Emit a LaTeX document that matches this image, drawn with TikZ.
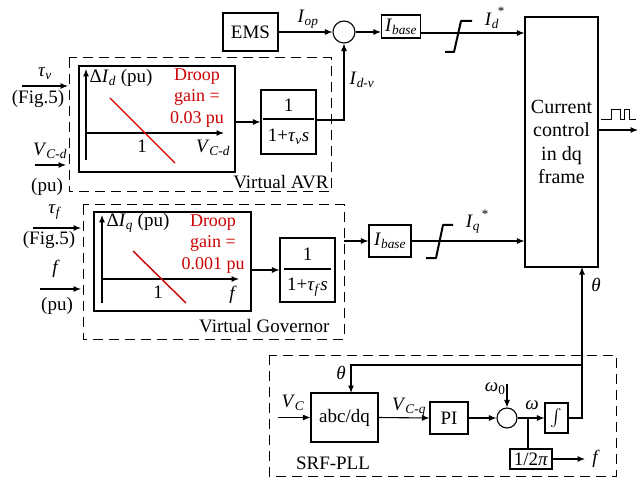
\documentclass[tikz,border=0pt]{standalone}
\usepackage{amsmath}
\usepackage{fontspec}
\setmainfont{Liberation Serif}
\usetikzlibrary{arrows.meta,calc}
\definecolor{droopred}{RGB}{204,0,0}
\newcommand\itsub[2]{\textit{#1}\textsubscript{\textit{#2}}}
\begin{document}
\begin{tikzpicture}[x=1pt,y=-1pt,
  font=\fontsize{19}{21}\selectfont,
  line width=1.1pt,
  >={Latex[length=7.5pt,width=6pt]},
  blk/.style={draw, inner sep=0pt},
  grp/.style={draw, line width=1pt, dash pattern=on 10pt off 6pt},
  lbl/.style={inner sep=0pt},
  starl/.style={inner sep=0pt, font=\fontsize{13}{14}\selectfont},
  redline/.style={draw=droopred, line width=1.4pt},
  droop/.style={text=droopred, align=center, inner sep=0pt, font=\fontsize{18}{21.5}\selectfont},
  sat/.style={line width=2pt, line join=round}]
\useasboundingbox (0,0) rectangle (639,478);

% ---------- top row ----------
\node[blk, minimum width=55pt, minimum height=38pt] (ems) at (250.5,32) {EMS};
\node[draw, circle, minimum size=22pt, inner sep=0pt] (sumd) at (344,32) {};
\node[blk, minimum width=39pt, minimum height=23pt] (ibd) at (401,26.5) {\itsub{I}{base}};
\node[blk, align=center, minimum width=73pt, minimum height=250pt,
      font=\fontsize{20}{23.5}\selectfont] (cc) at (561.5,142) {Current\\control\\in dq\\frame};

\draw[->] (ems.east) -- (sumd.west);
\node[lbl] (iop) at (308,19) {\itsub{I}{op}};
\draw[->] (sumd.east) -- (sumd.east -| ibd.west);
\coordinate (ibdo) at (420,33);
\draw[->] (ibdo) -- (ibdo -| cc.west);
\draw[sat] (445,52) -- (454,52) -- (461,21) -- (472,21);
\node[lbl] (idl) at (492,21) {\itsub{I}{d}};
\node[starl] (ids) at (501,11) {*};

% output of current control
\coordinate (cco) at (598,130);
\coordinate (ccend) at (638,130);
\draw[->] (cco) -- (ccend);
\draw[line width=0.9pt] (601,119) -- (611,119) -- (611,109) -- (620,109) -- (620,119) -- (624,119)
   -- (624,109) -- (629,109) -- (629,119) -- (636,119);

% ---------- Virtual AVR ----------
\draw[grp] (69,58) rectangle (331,192);
\node[lbl, anchor=base east] (avrl) at (329,189) {Virtual AVR};
\node[blk, minimum width=156pt, minimum height=106pt] (gd) at (157,119) {};
\coordinate (gdv0) at (86,160); \coordinate (gdv1) at (86,69);
\coordinate (gdh0) at (86,133); \coordinate (gdh1) at (224,133);
\draw[->] (gdv0) -- (gdv1);
\draw[->] (gdh0) -- (gdh1);
\draw[redline] (110,98) -- (175,163);
\node[lbl, anchor=west] (dild) at (89,78) {Δ\itsub{I}{d} (pu)};
\node[lbl] (oned) at (142,146) {1};
\node[lbl] (vcdax) at (213,148) {\itsub{V}{C-d}};
\node[droop] (droopd) at (197,98) {Droop\\gain =\\0.03 pu};

\node[blk, minimum width=55pt, minimum height=64pt] (tv) at (288.5,122) {};
\draw (263,119) -- (314,119);
\node[lbl] (tvn) at (288.5,105) {1};
\node[lbl] (tvd) at (288.5,137) {1+\itsub{τ}{v}\textit{s}};
\draw[->] (gd.east |- tv.west) -- (tv.west);
\coordinate (tvo) at (316,120);
\draw[->] (tvo) -| (sumd.south);
\node[lbl] (idv) at (362,80) {\itsub{I}{d-v}};

% AVR inputs
\coordinate (tvin0) at (22,86); \coordinate (tvin1) at (68,86);
\draw[->] (tvin0) -- (tvin1);
\node[lbl] (tvl) at (45,74) {\itsub{τ}{v}};
\node[lbl] (fig1) at (38,99) {(Fig.5)};
\coordinate (vcd0) at (35,165); \coordinate (vcd1) at (66,165);
\draw[->] (vcd0) -- (vcd1);
\node[lbl] (vcdl) at (50,151) {\itsub{V}{C-d}};
\node[lbl] (pu1) at (47,187) {(pu)};

% ---------- Virtual Governor ----------
\draw[grp] (83,205) rectangle (344,339);
\node[lbl, anchor=base east] (govl) at (330,332) {Virtual Governor};
\node[blk, minimum width=157pt, minimum height=99pt] (gq) at (172.5,261.5) {};
\coordinate (gqv0) at (102,303); \coordinate (gqv1) at (102,215);
\coordinate (gqh0) at (102,279); \coordinate (gqh1) at (239,279);
\draw[->] (gqv0) -- (gqv1);
\draw[->] (gqh0) -- (gqh1);
\draw[redline] (133,251) -- (186,303);
\node[lbl, anchor=west] (dilq) at (106,223) {Δ\itsub{I}{q} (pu)};
\node[lbl] (oneq) at (158,292) {1};
\node[lbl] (fax) at (233,295) {\textit{f}};
\node[droop] (droopq) at (213,244) {Droop\\gain =\\0.001 pu};

\node[blk, minimum width=55pt, minimum height=64pt] (tf) at (307.5,270) {};
\draw (284,269) -- (331,269);
\node[lbl] (tfn) at (307.5,254) {1};
\node[lbl] (tfd) at (307.5,287) {1+\itsub{τ}{f}\textit{s}};
\draw[->] (gq.east |- tf.west) -- (tf.west);

\node[blk, minimum width=42pt, minimum height=32pt] (ibq) at (390,241) {\itsub{I}{base}};
\coordinate (gqo) at (344,241);
\draw[->] (gqo) -- (ibq.west);
\draw[->] (ibq.east) -- (ibq.east -| cc.west);
\draw[sat] (426,258) -- (436,258) -- (443,225) -- (453,225);
\node[lbl] (iql) at (473,224) {\itsub{I}{q}};
\node[starl] (iqs) at (485,214) {*};

% governor inputs
\coordinate (tfin0) at (33,228); \coordinate (tfin1) at (81,228);
\draw[->] (tfin0) -- (tfin1);
\node[lbl] (tfl) at (55,212) {\itsub{τ}{f}};
\node[lbl] (fig2) at (49,240) {(Fig.5)};
\coordinate (fin0) at (40,289); \coordinate (fin1) at (81,289);
\draw[->] (fin0) -- (fin1);
\node[lbl] (fl) at (56,269) {\textit{f}};
\node[lbl] (pu2) at (57,306) {(pu)};

% ---------- SRF-PLL ----------
\draw[grp] (269,355) rectangle (616,476);
\node[lbl] (pll) at (333,463) {SRF-PLL};
\node[blk, minimum width=67pt, minimum height=49pt] (abc) at (344.5,417.5) {abc/dq};
\node[blk, minimum width=38pt, minimum height=32pt] (pi) at (449,418) {PI};
\node[draw, circle, minimum size=20pt, inner sep=0pt] (sump) at (507,418) {};
\node[blk, minimum width=23pt, minimum height=30pt] (integ) at (556.5,418) {$\int$};
\node[blk, minimum width=42pt, minimum height=20pt] (twopi) at (531,459) {1/2\textit{π}};

\coordinate (vcin) at (278,417.5);
\draw[->] (vcin) -- (abc.west);
\node[lbl] (vcl) at (293,403) {\itsub{V}{C}};
\draw[->] (abc.east) -- (pi.west);
\node[lbl] (vcql) at (409,407) {\itsub{V}{C-q}};
\draw[->] (pi.east) -- (sump.west);
\coordinate (w0) at (507,384);
\draw[->] (w0) -- (sump.north);
\node[lbl, anchor=east] (w0l) at (506,389) {\itsub{ω}{\upshape 0}};
\draw[->] (sump.east) -- (integ.west);
\node[lbl] (wl) at (532,405) {\textit{ω}};
\coordinate (br) at (528,418);
\draw (br) -- (br |- twopi.north);
\coordinate (fout) at (585,459);
\draw[->] (twopi.east) -- (fout);
\node[lbl] (fo) at (596,459) {\textit{f}};

% theta feedback
\coordinate (ccth) at (582,267);
\draw[->] (integ.east) -| (ccth);
\node[lbl] (thl) at (596,285) {\textit{θ}};
\coordinate (thj) at (582,365);
\coordinate (abcin) at (351,393);
\draw[->] (thj) -| (abcin);
\node[lbl] (thl2) at (341,373) {\textit{θ}};
\end{tikzpicture}
\end{document}
